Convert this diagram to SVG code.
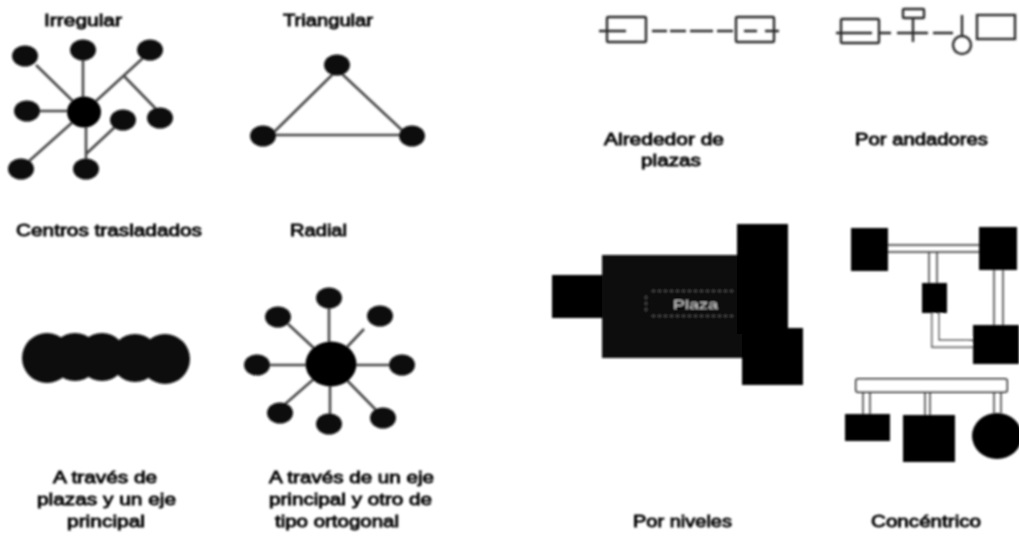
<svg xmlns="http://www.w3.org/2000/svg" width="1019" height="536" viewBox="0 0 1019 536">
<style>
text{font-family:"Liberation Sans",Arial,sans-serif;font-size:16px;fill:#000;stroke:#000;stroke-width:.8}
.c{stroke:#4a4a4a;stroke-width:2.6;fill:none}
.d{stroke:#2a2a2a;stroke-width:2.4;fill:none}
.k{fill:#000;stroke:none}
.n{fill:#0d0d0d;stroke:none}
.o{fill:#fff;stroke:#333;stroke-width:2}
.w{fill:#fff;stroke:#333;stroke-width:1.4}
#plaza-label{fill:#ccc;stroke:none;font-size:13px}
</style>
<defs><filter id="b" filterUnits="userSpaceOnUse" x="0" y="0" width="1019" height="536"><feGaussianBlur stdDeviation="0.8"/></filter></defs>
<rect width="1019" height="536" fill="#fff"/>
<g filter="url(#b)">
<g id="connectors">
<path class="c" d="M36 65L84 112M83 58V112M143 58L84 112M123 75L157 110M38 111H84M28 162L84 112M86 112V160M86 154L116 126"/>
<path class="c" d="M333 74L273 133M342 74L404 132M272 135H403"/>
<path class="c" d="M329 306V364M288 324L331 364M364 329L331 364M268 365H402M284 405L331 364M330 416V364M376 410L331 364"/>
<path class="d" d="M599 31H626M652 31H667M670 31H686M690 31H713M717 31H733M744 31H757M765 31H779"/>
<path class="d" d="M836 33H872M880 33H891M897 33H928M913 18V42M933 33H953M962 15V36"/>
</g>
<g id="irregular">
<ellipse class="n" cx="25" cy="56" rx="13" ry="10.500"/><ellipse class="n" cx="83" cy="50" rx="13" ry="10.500"/><ellipse class="n" cx="150" cy="50" rx="13" ry="10.500"/><ellipse class="n" cx="27" cy="111" rx="13" ry="10.500"/><ellipse class="n" cx="123" cy="120" rx="13" ry="10.500"/><ellipse class="n" cx="160" cy="118" rx="13" ry="10.500"/><ellipse class="n" cx="21" cy="169" rx="13" ry="10.500"/><ellipse class="n" cx="86" cy="169" rx="13" ry="10.500"/>
<ellipse class="k" cx="84" cy="112" rx="17" ry="15.500"/>
</g>
<g id="triangular">
<ellipse class="n" cx="337" cy="65" rx="13" ry="10.500"/><ellipse class="n" cx="263" cy="136" rx="13" ry="10.500"/><ellipse class="n" cx="412" cy="136" rx="13" ry="10.500"/>
</g>
<g id="centros">
<circle class="n" cx="47" cy="358" r="25"/><circle class="n" cx="75" cy="357" r="24"/><circle class="n" cx="102" cy="357" r="24"/><circle class="n" cx="135" cy="358" r="24"/><circle class="n" cx="165" cy="359" r="25"/>
</g>
<g id="radial">
<ellipse class="n" cx="329" cy="298" rx="13" ry="10.500"/><ellipse class="n" cx="278" cy="317" rx="13" ry="10.500"/><ellipse class="n" cx="380" cy="316" rx="13" ry="10.500"/><ellipse class="n" cx="257" cy="365" rx="13" ry="10.500"/><ellipse class="n" cx="402" cy="365" rx="13" ry="10.500"/><ellipse class="n" cx="280" cy="413" rx="13" ry="10.500"/><ellipse class="n" cx="329" cy="424" rx="13" ry="10.500"/><ellipse class="n" cx="383" cy="418" rx="13" ry="10.500"/>
<ellipse class="k" cx="331" cy="364" rx="25.500" ry="22.500"/>
</g>
<g id="alrededor">
<rect class="d" x="607" y="17" width="39" height="25" rx="1.500"/><rect class="d" x="736" y="17" width="38" height="25" rx="1.500"/>
</g>
<g id="andadores">
<rect class="d" x="841" y="19" width="38" height="24" rx="1.500"/><rect class="d" x="903" y="9" width="21" height="9" rx="1"/><circle class="d" cx="962" cy="45" r="9"/><rect class="d" x="977" y="15" width="38" height="24"/>
</g>
<g id="niveles">
<rect class="k" x="552" y="275" width="51" height="43"/><rect class="n" x="602" y="255" width="140" height="103"/><rect class="k" x="737" y="224" width="51" height="110"/><rect class="k" x="742" y="328" width="61" height="57"/>
<text id="plaza-label" x="673" y="309" textLength="45" lengthAdjust="spacingAndGlyphs">Plaza</text>
<path d="M646 296V312M652 291H736M652 316H736" fill="none" stroke="#999" stroke-width=".8" stroke-dasharray="3 3"/>
</g>
<g id="concentrico-a">
<path class="w" d="M888 245H979M888 252H979M929 252V283M937 252V283M932 313V347H973M939 313V340H973M994 270V325M1003 270V325"/>
<rect class="k" x="851" y="228" width="37" height="43"/><rect class="k" x="979" y="227" width="38" height="43"/><rect class="k" x="922" y="283" width="25" height="30"/><rect class="k" x="973" y="325" width="46" height="39"/>
</g>
<g id="concentrico-b">
<rect class="o" x="856" y="379" width="151" height="13" rx="2"/>
<path class="w" d="M863 392V414M870 392V414M925 392V415M930 392V415M994 392V413M1001 392V413"/>
<rect class="k" x="845" y="414" width="45" height="27"/><rect class="k" x="903" y="415" width="52" height="47"/><ellipse class="k" cx="997" cy="436" rx="25" ry="23"/>
</g>
<g id="labels">
<text x="44" y="26" textLength="78" lengthAdjust="spacingAndGlyphs">Irregular</text>
<text x="283" y="26" textLength="90" lengthAdjust="spacingAndGlyphs">Triangular</text>
<text x="16" y="236" textLength="186" lengthAdjust="spacingAndGlyphs">Centros trasladados</text>
<text x="290" y="236" textLength="57" lengthAdjust="spacingAndGlyphs">Radial</text>
<text x="53" y="483" textLength="104" lengthAdjust="spacingAndGlyphs">A través de</text>
<text x="37" y="505" textLength="139" lengthAdjust="spacingAndGlyphs">plazas y un eje</text>
<text x="67" y="527" textLength="78" lengthAdjust="spacingAndGlyphs">principal</text>
<text x="269" y="483" textLength="165" lengthAdjust="spacingAndGlyphs">A través de un eje</text>
<text x="269" y="505" textLength="163" lengthAdjust="spacingAndGlyphs">principal y otro de</text>
<text x="275" y="527" textLength="124" lengthAdjust="spacingAndGlyphs">tipo ortogonal</text>
<text x="604" y="145" textLength="120" lengthAdjust="spacingAndGlyphs">Alrededor de</text>
<text x="641" y="166" textLength="60" lengthAdjust="spacingAndGlyphs">plazas</text>
<text x="855" y="145" textLength="133" lengthAdjust="spacingAndGlyphs">Por andadores</text>
<text x="633" y="527" textLength="99" lengthAdjust="spacingAndGlyphs">Por niveles</text>
<text x="871" y="527" textLength="110" lengthAdjust="spacingAndGlyphs">Concéntrico</text>
</g>
</g>
</svg>
